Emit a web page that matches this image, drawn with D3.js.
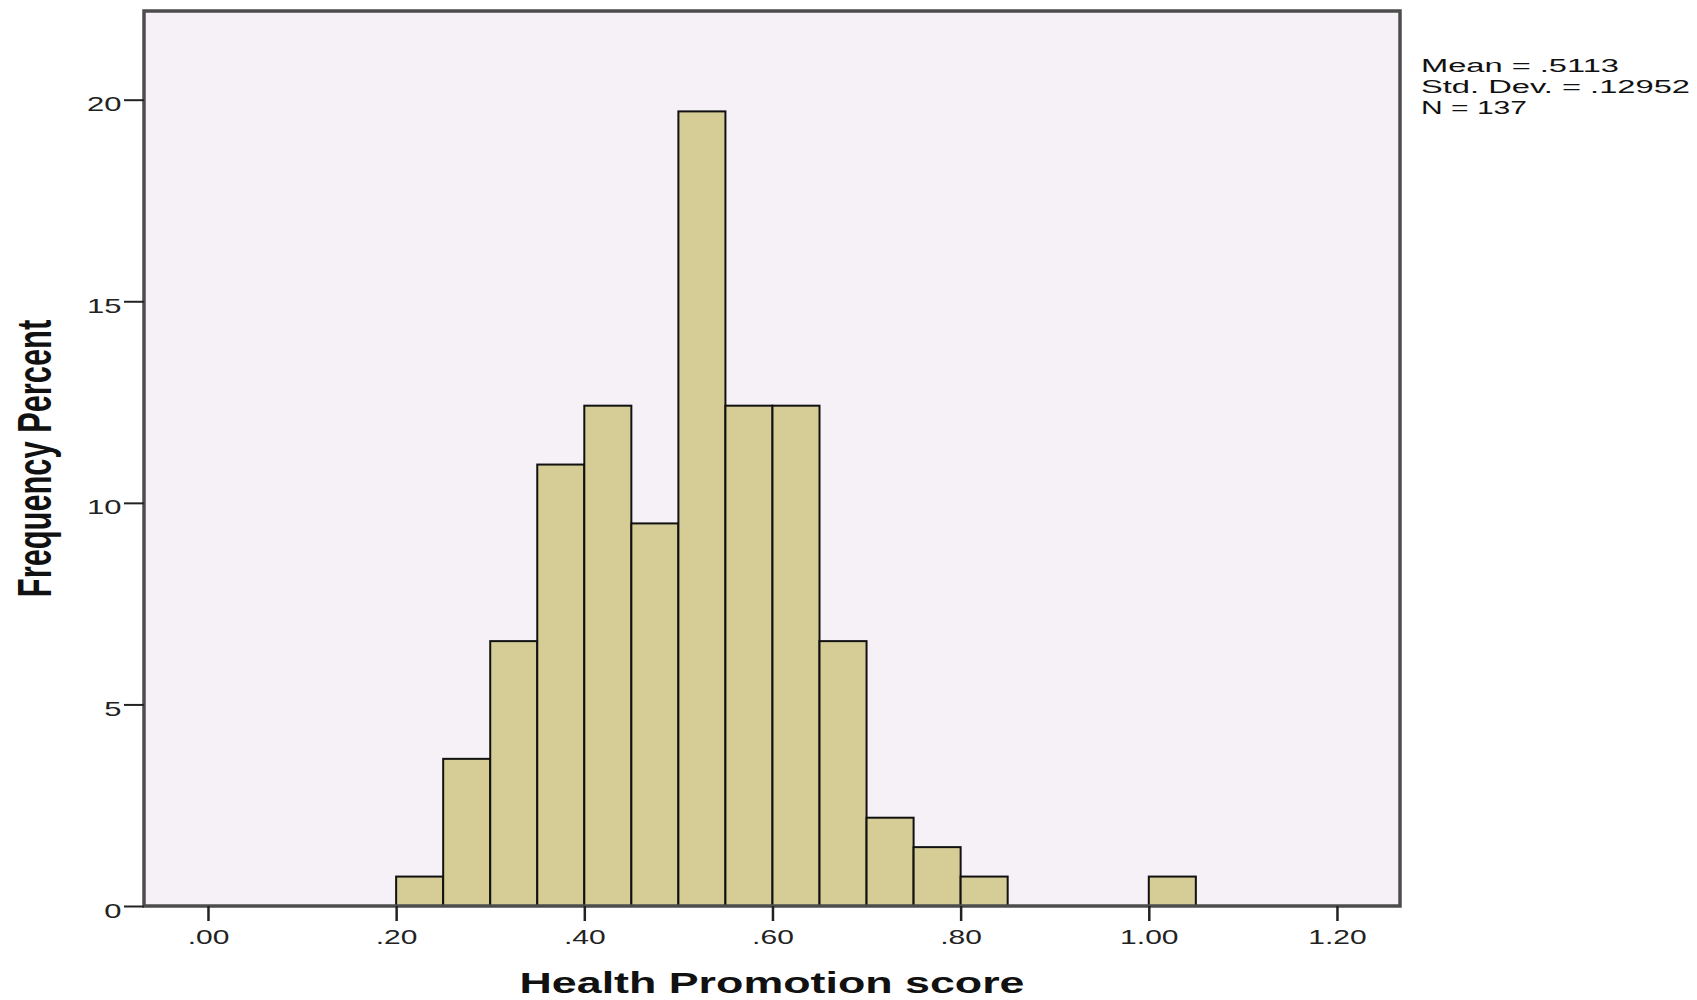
<!DOCTYPE html>
<html>
<head>
<meta charset="utf-8">
<script src="https://cdn.jsdelivr.net/npm/d3@7"></script>
<style>
  html, body { margin: 0; padding: 0; background: #ffffff; }
  svg { display: block; font-family: "Liberation Sans", Arial, sans-serif; }
</style>
</head>
<body>
<svg id="chart" width="1697" height="1000"></svg>
<script>
// ---- data ----
const binStarts = [0.20, 0.25, 0.30, 0.35, 0.40, 0.45, 0.50, 0.55, 0.60, 0.65, 0.70, 0.75, 0.80, 0.85, 0.90, 0.95, 1.00];
const binWidth = 0.05;
const percents  = [0.73, 3.65, 6.57, 10.95, 12.41, 9.49, 19.71, 12.41, 12.41, 6.57, 2.19, 1.46, 0.73, 0, 0, 0, 0.73];
const xTicks = [0.0, 0.2, 0.4, 0.6, 0.8, 1.0, 1.2];
const xTickLabels = [".00", ".20", ".40", ".60", ".80", "1.00", "1.20"];
const yTicks = [0, 5, 10, 15, 20];
const yTickLabels = ["0", "5", "10", "15", "20"];
const xTitle = "Health Promotion score";
const yTitle = "Frequency Percent";
const statsLines = ["Mean = .5113", "Std. Dev. = .12952", "N = 137"];

(function () {
// ---- layout ----
const svg = d3.select("#chart");
const pL = 144, pR = 1400, pT = 11, pB = 906;

const x = d3.scaleLinear().domain([-0.068, 1.267]).range([pL, pR]);
const y = d3.scaleLinear().domain([0, 22.2]).range([pB, pT]);

// plot background
svg.append("rect")
  .attr("x", pL).attr("y", pT)
  .attr("width", pR - pL).attr("height", pB - pT)
  .attr("fill", "#f5f1f6");

// bars
const bins = binStarts.map((s, i) => ({ x0: s, x1: s + binWidth, v: percents[i] })).filter(d => d.v > 0);
svg.append("g").selectAll("rect").data(bins).join("rect")
  .attr("x", d => x(d.x0))
  .attr("y", d => y(d.v))
  .attr("width", d => x(d.x1) - x(d.x0))
  .attr("height", d => y(0) - y(d.v))
  .attr("fill", "#d5cd95")
  .attr("stroke", "#111")
  .attr("stroke-width", 2);

// frame
svg.append("rect")
  .attr("x", pL).attr("y", pT)
  .attr("width", pR - pL).attr("height", pB - pT)
  .attr("fill", "none")
  .attr("stroke", "#4d4d4d")
  .attr("stroke-width", 3.5);

// y axis
const yAxis = d3.axisLeft(y).tickValues(yTicks).tickSize(20).tickPadding(0)
  .tickFormat((d, i) => yTickLabels[i]);
const gy = svg.append("g").attr("transform", `translate(${pL},0)`).call(yAxis);
gy.select(".domain").remove();
gy.selectAll(".tick line").attr("stroke", "#222").attr("stroke-width", 2);
gy.selectAll(".tick text")
  .attr("x", 0).attr("dy", "0.55em")
  .attr("transform", "translate(-22.5,0) scale(1.55,1)")
  .attr("font-size", 20).attr("fill", "#222")
  .attr("font-family", "Liberation Sans, Arial, sans-serif");

// x axis
const xAxis = d3.axisBottom(x).tickValues(xTicks).tickSize(15)
  .tickFormat((d, i) => xTickLabels[i]);
const gx = svg.append("g").attr("transform", `translate(0,${pB})`).call(xAxis);
gx.select(".domain").remove();
gx.selectAll(".tick line").attr("stroke", "#222").attr("stroke-width", 2.5);
gx.selectAll(".tick text")
  .attr("y", 38).attr("dy", 0)
  .attr("transform", "scale(1.5,1)")
  .attr("font-size", 20).attr("fill", "#222")
  .attr("font-family", "Liberation Sans, Arial, sans-serif");

// x title
svg.append("text")
  .attr("x", 772).attr("y", 993)
  .attr("text-anchor", "middle")
  .attr("font-size", 30).attr("font-weight", "bold").attr("fill", "#111")
  .attr("textLength", 505).attr("lengthAdjust", "spacingAndGlyphs")
  .text(xTitle);

// y title
svg.append("text")
  .attr("transform", "translate(50.7,458.5) scale(1.54,1) rotate(-90)")
  .attr("text-anchor", "middle")
  .attr("font-size", 30.8).attr("font-weight", "bold").attr("fill", "#111")
  .text(yTitle);

// stats box text
const statWidths = [198, 269, 106];
svg.append("g").selectAll("text").data(statsLines).join("text")
  .attr("x", 1421)
  .attr("y", (d, i) => 71.5 + i * 21)
  .attr("font-size", 18).attr("fill", "#111")
  .attr("textLength", (d, i) => statWidths[i])
  .attr("lengthAdjust", "spacingAndGlyphs")
  .text(d => d);
})();
</script>
</body>
</html>
